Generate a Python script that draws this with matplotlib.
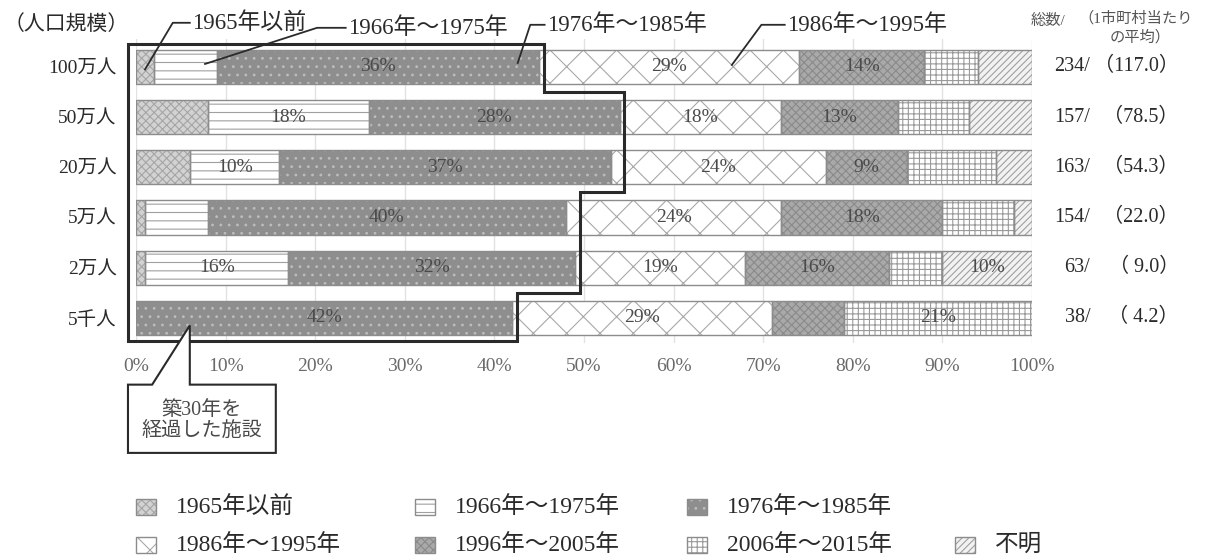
import matplotlib.pyplot as plt
from matplotlib.patches import Rectangle, Polygon
import numpy as np

plt.rcParams['font.family'] = ['Liberation Serif', 'Noto Sans CJK JP']
plt.rcParams['hatch.linewidth'] = 0.8

sizes = ["100万人", "50万人", "20万人", "5万人", "2万人", "5千人"]
periods = ["1965年以前", "1966年〜1975年", "1976年〜1985年", "1986年〜1995年",
           "1996年〜2005年", "2006年〜2015年", "不明"]

# 建築年度別の割合 (%)
p1965 = [2, 8, 6, 1, 1, 0]
p1966 = [7, 18, 10, 7, 16, 0]
p1976 = [36, 28, 37, 40, 32, 42]
p1986 = [29, 18, 24, 24, 19, 29]
p1996 = [14, 13, 9, 18, 16, 8]
p2006 = [6, 8, 10, 8, 6, 21]
unknown = [6, 7, 4, 2, 10, 0]

# 総数と1市町村当たりの平均
totals = [234, 157, 163, 154, 63, 38]
averages = [117.0, 78.5, 54.3, 22.0, 9.0, 4.2]

# 数値を表示する区分
label_cols = [[2, 3, 4], [1, 2, 3, 4], [1, 2, 3, 4], [2, 3, 4], [1, 2, 3, 4, 6], [2, 3, 5]]

series = [p1965, p1966, p1976, p1986, p1996, p2006, unknown]
faces = ['#d2d2d2', '#ffffff', '#8e8e8e', '#ffffff', '#a9a9a9', '#ffffff', '#f2f2f2']
hatches = ['xxxx', '--', '..', 'x', 'xxxx', '+++', '/////']
hatch_colors = ['#a5a5a5', '#a0a0a0', '#bdbdbd', '#a8a8a8', '#8a8a8a', '#9a9a9a', '#a0a0a0']

ink = '#2a2a2a'

fig = plt.figure(figsize=(12.19, 5.55), dpi=100)
ax = fig.add_axes([0.1116, 0.382, 0.735, 0.548])

y = np.arange(len(sizes))
left = np.zeros(len(sizes))
for k, vals in enumerate(series):
    vals = np.array(vals, dtype=float)
    m = vals > 0
    ax.barh(y[m], vals[m], left=left[m], height=0.68, color=faces[k],
            hatch=hatches[k], edgecolor=hatch_colors[k], linewidth=0, zorder=2)
    ax.barh(y[m], vals[m], left=left[m], height=0.68, fill=False,
            edgecolor='#8c8c8c', linewidth=1.0, zorder=3)
    for i in range(len(sizes)):
        if k in label_cols[i]:
            ax.text(left[i] + vals[i] / 2, y[i], f"{vals[i]:.0f}%", ha='center',
                    va='center', fontsize=14, color='#4a4a4a', zorder=4)
    left += vals

ax.set_xlim(0, 100)
ax.set_ylim(5.5, -0.56)
ax.set_xticks(np.arange(0, 101, 10))
ax.set_xticklabels([f"{v}%" for v in range(0, 101, 10)], color='#6a6a6a', fontsize=14)
ax.set_yticks(y)
ax.set_yticklabels(sizes, fontsize=14, color=ink)
ax.tick_params(axis='x', length=0, pad=11)
ax.tick_params(axis='y', length=0, pad=14)
for s in ax.spines.values():
    s.set_visible(False)
ax.grid(axis='x', color='#e2e2e2', linewidth=1.0, zorder=0)
ax.set_axisbelow(True)

# 築30年を経過した施設の枠
cum = np.array(p1965) + np.array(p1966) + np.array(p1976)
steps = [cum[0] + 0.5, max(cum[1], cum[2]) + 0.5, max(cum[3], cum[4]) + 0.5, cum[5] + 0.5]
xl, yt, yb = -0.9, -0.46, 5.46
frame = [(xl, yt), (steps[0], yt), (steps[0], 0.5), (steps[1], 0.5), (steps[1], 2.5),
         (steps[2], 2.5), (steps[2], 4.5), (steps[3], 4.5), (steps[3], yb), (xl, yb)]
ax.add_patch(Polygon(frame, closed=True, fill=False, edgecolor=ink, linewidth=2.2,
                     clip_on=False, zorder=5))

# 吹き出し
callout = [(-0.9, 6.33), (1.8, 6.33), (6.0, 5.15), (6.0, 6.33), (15.6, 6.33),
           (15.6, 7.69), (-0.9, 7.69)]
ax.add_patch(Polygon(callout, closed=True, facecolor='white', edgecolor=ink,
                     linewidth=1.5, clip_on=False, zorder=6))
ax.text(7.35, 7.05, "築30年を\n経過した施設", ha='center', va='center', fontsize=14.5,
        color='#4a4a4a', linespacing=1.1, zorder=7, clip_on=False)

# 凡例の引き出し線
leaders = [
    (periods[0], [(1.0, 0.05), (4.1, -0.88), (6.0, -0.88)]),
    (periods[1], [(7.7, -0.06), (20.2, -0.78), (23.4, -0.78)]),
    (periods[2], [(42.6, -0.08), (44.0, -0.84), (45.6, -0.84)]),
    (periods[3], [(66.5, -0.04), (69.8, -0.84), (72.4, -0.84)]),
]
for text, pts in leaders:
    xs, ys = zip(*pts)
    ax.plot(xs, ys, color=ink, linewidth=1.3, clip_on=False, zorder=6)
    ax.text(xs[-1] + 0.3, ys[-1], text, ha='left', va='center', fontsize=16.5,
            color=ink, clip_on=False)

# 総数と平均
for i in range(len(sizes)):
    ax.text(106.5, y[i], f"{totals[i]}/", ha='right', va='center', fontsize=14.5,
            color=ink, clip_on=False)
    ax.text(116.4, y[i], f"（{averages[i]:4.1f}）", ha='right', va='center',
            fontsize=14.5, color=ink, clip_on=False)

W, H = 1219, 555


def fx(px):
    return px / W


def fy(py):
    return 1 - py / H


fig.text(fx(4), fy(25), "（人口規模）", ha='left', va='center', fontsize=15, color=ink)
fig.text(fx(1048), fy(21), "総数/", ha='center', va='center', fontsize=11, color='#555555')
fig.text(fx(1136), fy(18), "（1市町村当たり", ha='center', va='center', fontsize=11,
         color='#555555')
fig.text(fx(1140), fy(37), "の平均）", ha='center', va='center', fontsize=11,
         color='#555555')

# 凡例
legend_pos = [(136, 507), (415, 507), (687, 507),
              (136, 545), (415, 545), (687, 545), (955, 545)]
for k, (px, py) in enumerate(legend_pos):
    fig.patches.append(Rectangle((fx(px), fy(py + 8)), 20 / W, 16 / H,
                                 transform=fig.transFigure, facecolor=faces[k],
                                 hatch=hatches[k], edgecolor=hatch_colors[k],
                                 linewidth=0))
    fig.patches.append(Rectangle((fx(px), fy(py + 8)), 20 / W, 16 / H,
                                 transform=fig.transFigure, fill=False,
                                 edgecolor='#8c8c8c', linewidth=1.0))
    fig.text(fx(px + 40), fy(py), periods[k], ha='left', va='center', fontsize=17,
             color=ink)

fig.savefig("out.png", dpi=100)
